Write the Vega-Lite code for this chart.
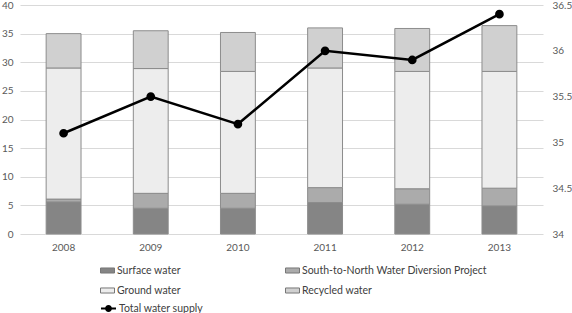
{
  "$schema": "https://vega.github.io/schema/vega-lite/v6.json",
  "width": 523,
  "height": 229,
  "autosize": {"type": "none"},
  "padding": {"left": 20, "top": 5, "right": 29, "bottom": 79},
  "background": "white",
  "config": {
    "font": "Lato",
    "view": {"stroke": null},
    "axis": {"labelFont": "Lato", "labelColor": "#595959", "labelFontSize": 10, "title": null, "domain": false, "ticks": false},
    "legend": {"labelFont": "Lato", "labelColor": "#404040", "labelFontSize": 10.5, "padding": 0, "title": null, "labelLimit": 400}
  },
  "datasets": {
    "bars": [
      {"year": "2008", "source": "Surface water", "o": 1, "value": 5.6},
      {"year": "2008", "source": "South-to-North Water Diversion Project", "o": 2, "value": 0.5},
      {"year": "2008", "source": "Ground water", "o": 3, "value": 22.9},
      {"year": "2008", "source": "Recycled water", "o": 4, "value": 6.0},
      {"year": "2009", "source": "Surface water", "o": 1, "value": 4.5},
      {"year": "2009", "source": "South-to-North Water Diversion Project", "o": 2, "value": 2.6},
      {"year": "2009", "source": "Ground water", "o": 3, "value": 21.8},
      {"year": "2009", "source": "Recycled water", "o": 4, "value": 6.6},
      {"year": "2010", "source": "Surface water", "o": 1, "value": 4.5},
      {"year": "2010", "source": "South-to-North Water Diversion Project", "o": 2, "value": 2.6},
      {"year": "2010", "source": "Ground water", "o": 3, "value": 21.3},
      {"year": "2010", "source": "Recycled water", "o": 4, "value": 6.8},
      {"year": "2011", "source": "Surface water", "o": 1, "value": 5.5},
      {"year": "2011", "source": "South-to-North Water Diversion Project", "o": 2, "value": 2.6},
      {"year": "2011", "source": "Ground water", "o": 3, "value": 20.9},
      {"year": "2011", "source": "Recycled water", "o": 4, "value": 7.0},
      {"year": "2012", "source": "Surface water", "o": 1, "value": 5.2},
      {"year": "2012", "source": "South-to-North Water Diversion Project", "o": 2, "value": 2.7},
      {"year": "2012", "source": "Ground water", "o": 3, "value": 20.5},
      {"year": "2012", "source": "Recycled water", "o": 4, "value": 7.5},
      {"year": "2013", "source": "Surface water", "o": 1, "value": 4.9},
      {"year": "2013", "source": "South-to-North Water Diversion Project", "o": 2, "value": 3.1},
      {"year": "2013", "source": "Ground water", "o": 3, "value": 20.4},
      {"year": "2013", "source": "Recycled water", "o": 4, "value": 8.0}
    ],
    "total": [
      {"year": "2008", "series": "Total water supply", "total": 35.1},
      {"year": "2009", "series": "Total water supply", "total": 35.5},
      {"year": "2010", "series": "Total water supply", "total": 35.2},
      {"year": "2011", "series": "Total water supply", "total": 36.0},
      {"year": "2012", "series": "Total water supply", "total": 35.9},
      {"year": "2013", "series": "Total water supply", "total": 36.4}
    ]
  },
  "encoding": {
    "x": {
      "field": "year", "type": "ordinal",
      "scale": {"paddingInner": 0.6, "paddingOuter": 0.3},
      "axis": {"labelAngle": 0, "labelPadding": 8, "labelColor": "#595959"}
    }
  },
  "layer": [
    {
      "data": {"name": "bars"},
      "mark": {"type": "bar", "stroke": "#8c8c8c", "strokeWidth": 1},
      "encoding": {
        "y": {
          "field": "value", "type": "quantitative", "stack": "zero",
          "scale": {"domain": [0, 40], "nice": false},
          "axis": {"values": [0, 5, 10, 15, 20, 25, 30, 35, 40], "grid": true, "gridColor": "#d9d9d9", "labelPadding": 7}
        },
        "fill": {
          "field": "source", "type": "nominal",
          "scale": {
            "domain": ["Surface water", "South-to-North Water Diversion Project", "Ground water", "Recycled water"],
            "range": ["#858585", "#ababab", "#ededed", "#d0d0d0"]
          },
          "legend": {
            "orient": "none", "legendX": 80, "legendY": 258, "columns": 2, "direction": "horizontal", "columnPadding": 102, "rowPadding": 7,
            "symbolType": "M-1,-0.36L1,-0.36L1,0.36L-1,0.36Z", "symbolSize": 196,
            "symbolStrokeColor": "#777777", "symbolStrokeWidth": 1, "labelOffset": 2
          }
        },
        "order": {"field": "o", "type": "quantitative"}
      }
    },
    {
      "data": {"name": "total"},
      "mark": {"type": "line", "strokeWidth": 2.5, "point": {"filled": true, "size": 45, "fill": "black"}},
      "encoding": {
        "y": {
          "field": "total", "type": "quantitative",
          "scale": {"domain": [34, 36.5], "nice": false, "zero": false},
          "axis": {"orient": "right", "values": [34, 34.5, 35, 35.5, 36, 36.5], "format": "~g", "grid": false, "labelPadding": 9}
        },
        "stroke": {
          "field": "series", "type": "nominal",
          "scale": {"domain": ["Total water supply"], "range": ["black"]},
          "legend": {
            "orient": "none", "legendX": 80, "legendY": 295,
            "symbolType": "M-1,0L1,0M-0.33,0A0.33,0.33,0,1,0,0.33,0A0.33,0.33,0,1,0,-0.33,0Z",
            "symbolSize": 225, "symbolStrokeWidth": 2, "symbolFillColor": "black", "labelOffset": 2
          }
        }
      }
    }
  ],
  "resolve": {"scale": {"y": "independent"}}
}
